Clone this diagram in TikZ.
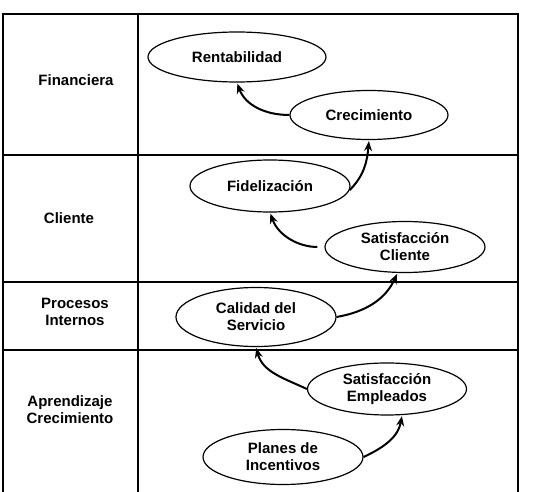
\documentclass[tikz,border=0pt]{standalone}
\usepackage{fontspec}
\setmainfont{Liberation Sans}
\usetikzlibrary{arrows.meta,shapes.geometric}

\begin{document}
\begin{tikzpicture}[
  x=1pt, y=1pt,
  font=\bfseries\fontsize{15}{17}\selectfont,
  grid/.style={line width=1.3pt},
  rowlabel/.style={align=center, inner sep=0pt},
  goal/.style={draw, ellipse, line width=1.2pt, align=center,
      inner sep=0pt, minimum width=160pt, minimum height=51pt},
  arrow/.style={-{Stealth[length=3.5mm, width=2.8mm]}, line width=2pt,
      shorten >=1pt}
]
\useasboundingbox (0,0) rectangle (542,-492);
% table
\draw[grid] (3,-492) -- (3,-14) -- (518,-14) -- (518,-492);
\draw[grid] (138,-14) -- (138,-492);
\draw[grid] (3,-155) -- (518,-155);
\draw[grid] (3,-282) -- (518,-282);
\draw[grid] (3,-350) -- (518,-350);
% perspectives
\node[rowlabel] (finan) at (76,-80) {Financiera};
\node[rowlabel] (cliente) at (69,-218) {Cliente};
\node[rowlabel] (procesos) at (75,-312) {Procesos\\Internos};
\node[rowlabel] (aprend) at (70,-410) {Aprendizaje\\Crecimiento};
% objectives
\node[goal, minimum width=178pt, minimum height=50pt] (rent) at (237,-57)
  {Rentabilidad};
\node[goal, minimum width=158pt, minimum height=49pt] (crec) at (369,-115)
  {Crecimiento};
\node[goal, minimum height=52pt] (fidel) at (270,-186) {Fidelización};
\node[goal] (satcli) at (405,-247) {Satisfacción\\Cliente};
\node[goal, minimum height=59pt] (calidad) at (256,-317)
  {Calidad del\\Servicio};
\node[goal, minimum width=159pt, minimum height=52pt] (satemp) at (387,-389)
  {Satisfacción\\Empleados};
\node[goal, minimum height=55pt] (planes) at (283,-457)
  {Planes de\\Incentivos};
% links
\draw[arrow] (crec.west) to[out=180, in=-70] (rent.south);
\draw[arrow] (fidel.-3) to[out=45, in=-95] (crec.south);
\draw[arrow, shorten <=7pt] (satcli.west) to[out=180, in=-70] (fidel.south);
\draw[arrow] (calidad.east) to[out=10, in=-115] (satcli.-106);
\draw[arrow] (satemp.west) to[out=155, in=-75] (calidad.south);
\draw[arrow] (planes.east) to[out=25, in=-100] (satemp.-60);
\end{tikzpicture}
\end{document}
